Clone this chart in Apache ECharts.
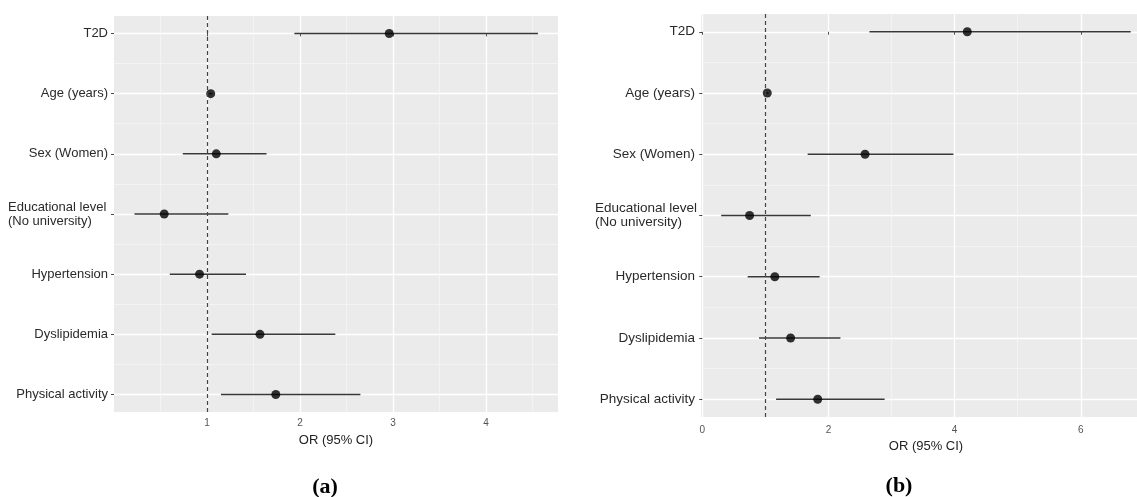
<!DOCTYPE html>
<html>
<head>
<meta charset="utf-8">
<script src="https://cdn.jsdelivr.net/npm/echarts@6/dist/echarts.min.js"></script>
<style>
html, body { margin: 0; padding: 0; background: #fff; }
#chart { width: 1137px; height: 497px; }
</style>
</head>
<body>
<div id="chart"></div>
<script>
// rows, top to bottom
var categories = ['T2D', 'Age (years)', 'Sex (Women)', 'Educational level\n(No university)',
	'Hypertension', 'Dyslipidemia', 'Physical activity'];

// panel (a)
var orA = [2.96, 1.04, 1.10, 0.54, 0.92, 1.57, 1.74];
var loA = [1.94, 1.02, 0.74, 0.22, 0.60, 1.05, 1.15];
var hiA = [4.56, 1.06, 1.64, 1.23, 1.42, 2.38, 2.65];
var ticksA = [1, 2, 3, 4];
var minorA = [0.5, 1.5, 2.5, 3.5, 4.5];

// panel (b)
var orB = [4.20, 1.03, 2.58, 0.75, 1.15, 1.40, 1.83];
var loB = [2.65, 1.01, 1.67, 0.30, 0.72, 0.90, 1.17];
var hiB = [6.79, 1.05, 3.98, 1.72, 1.86, 2.19, 2.89];
var ticksB = [0, 2, 4, 6];
var minorB = [1, 3, 5];

var rowTicks = [0, 1, 2, 3, 4, 5, 6];
var rowMinor = [0.5, 1.5, 2.5, 3.5, 4.5, 5.5];
var refLine = 1;

var textFont = "'Liberation Sans', Arial, sans-serif";

function rowLabel(v) {
	var name = categories[Math.round(v)];
	if (name.indexOf('\n') >= 0) {
		return name.split('\n').map(function (s) { return '{e|' + s + '}'; }).join('\n');
	}
	return name;
}

// major axis (ticks, labels, white grid) + hidden minor axis (thin grid)
function mkX(grid, min, max, ticks, minor, lblMargin, namePad) {
	return [{
		gridIndex: grid, type: 'value', min: min, max: max, position: 'bottom',
		name: 'OR (95% CI)', nameLocation: 'middle', nameGap: 22,
		nameTextStyle: { color: '#222', fontSize: 13, fontFamily: textFont, padding: namePad },
		axisLine: { show: false },
		axisTick: { show: true, length: 3, customValues: ticks, lineStyle: { color: '#555' } },
		axisLabel: { customValues: ticks, color: '#555', fontSize: 10, margin: lblMargin, fontFamily: textFont },
		splitLine: { show: true, lineStyle: { color: '#fff', width: 1.3 } }
	}, {
		gridIndex: grid, type: 'value', min: min, max: max, position: 'top',
		axisLine: { show: false },
		axisTick: { show: false, customValues: minor },
		axisLabel: { show: false },
		splitLine: { show: true, lineStyle: { color: '#f6f6f6', width: 0.7 } }
	}];
}

function mkY(grid, fs) {
	return [{
		gridIndex: grid, type: 'value', min: -0.29, max: 6.29, inverse: true, position: 'left',
		axisLine: { show: false },
		axisTick: { show: true, length: 3, customValues: rowTicks, lineStyle: { color: '#444' } },
		axisLabel: {
			customValues: rowTicks, color: '#2a2a2a', fontSize: fs, margin: 6, fontFamily: textFont,
			formatter: rowLabel,
			rich: { e: { width: 100, align: 'left', fontSize: fs, lineHeight: 14, color: '#2a2a2a', fontFamily: textFont } }
		},
		splitLine: { show: true, lineStyle: { color: '#fff', width: 1.3 } }
	}, {
		gridIndex: grid, type: 'value', min: -0.29, max: 6.29, inverse: true, position: 'right',
		axisLine: { show: false },
		axisTick: { show: false, customValues: rowMinor },
		axisLabel: { show: false },
		splitLine: { show: true, lineStyle: { color: '#f6f6f6', width: 0.7 } }
	}];
}

function errBars(lo, hi) {
	return lo.map(function (v, i) { return [v, hi[i], i]; });
}
function points(or) {
	return or.map(function (v, i) { return [v, i]; });
}

function renderBar(params, api) {
	var a = api.coord([api.value(0), api.value(2)]);
	var b = api.coord([api.value(1), api.value(2)]);
	return {
		type: 'line',
		shape: { x1: a[0], y1: a[1], x2: b[0], y2: b[1] },
		style: { stroke: '#383838', lineWidth: 1.5 }
	};
}

function panelSeries(xi, yi, lo, hi, or) {
	return [{
		type: 'custom', xAxisIndex: xi, yAxisIndex: yi,
		renderItem: renderBar, encode: { x: [0, 1], y: 2 },
		data: errBars(lo, hi), z: 3
	}, {
		type: 'scatter', xAxisIndex: xi, yAxisIndex: yi,
		symbolSize: 9, itemStyle: { color: '#000' },
		data: points(or), z: 4,
		markLine: {
			silent: true, symbol: 'none', label: { show: false },
			lineStyle: { color: '#444', type: [4, 3], width: 1.2 },
			data: [{ xAxis: refLine }]
		}
	}];
}

var option = {
	animation: false,
	backgroundColor: '#fff',
	grid: [
		{ left: 114, top: 16, width: 444, height: 396, show: true, backgroundColor: '#EBEBEB', borderWidth: 0 },
		{ left: 701, top: 14, right: 0, height: 403, show: true, backgroundColor: '#EBEBEB', borderWidth: 0 }
	],
	xAxis: mkX(0, 0, 4.775, ticksA, minorA, 6, 0).concat(mkX(1, -0.02, 6.89, ticksB, minorB, 8, [0, 0, 0, 14])),
	yAxis: mkY(0, 13).concat(mkY(1, 13.5)),
	series: panelSeries(0, 0, loA, hiA, orA).concat(panelSeries(2, 2, loB, hiB, orB)),
	graphic: [
		{ type: 'text', x: 325, y: 487, style: { text: '(a)', textAlign: 'center', textVerticalAlign: 'middle',
			font: "bold 22px 'Liberation Serif', serif", fill: '#000' } },
		{ type: 'text', x: 899, y: 486, style: { text: '(b)', textAlign: 'center', textVerticalAlign: 'middle',
			font: "bold 22px 'Liberation Serif', serif", fill: '#000' } }
	]
};

var myChart = echarts.init(document.getElementById('chart'));
myChart.setOption(option);
</script>
</body>
</html>
